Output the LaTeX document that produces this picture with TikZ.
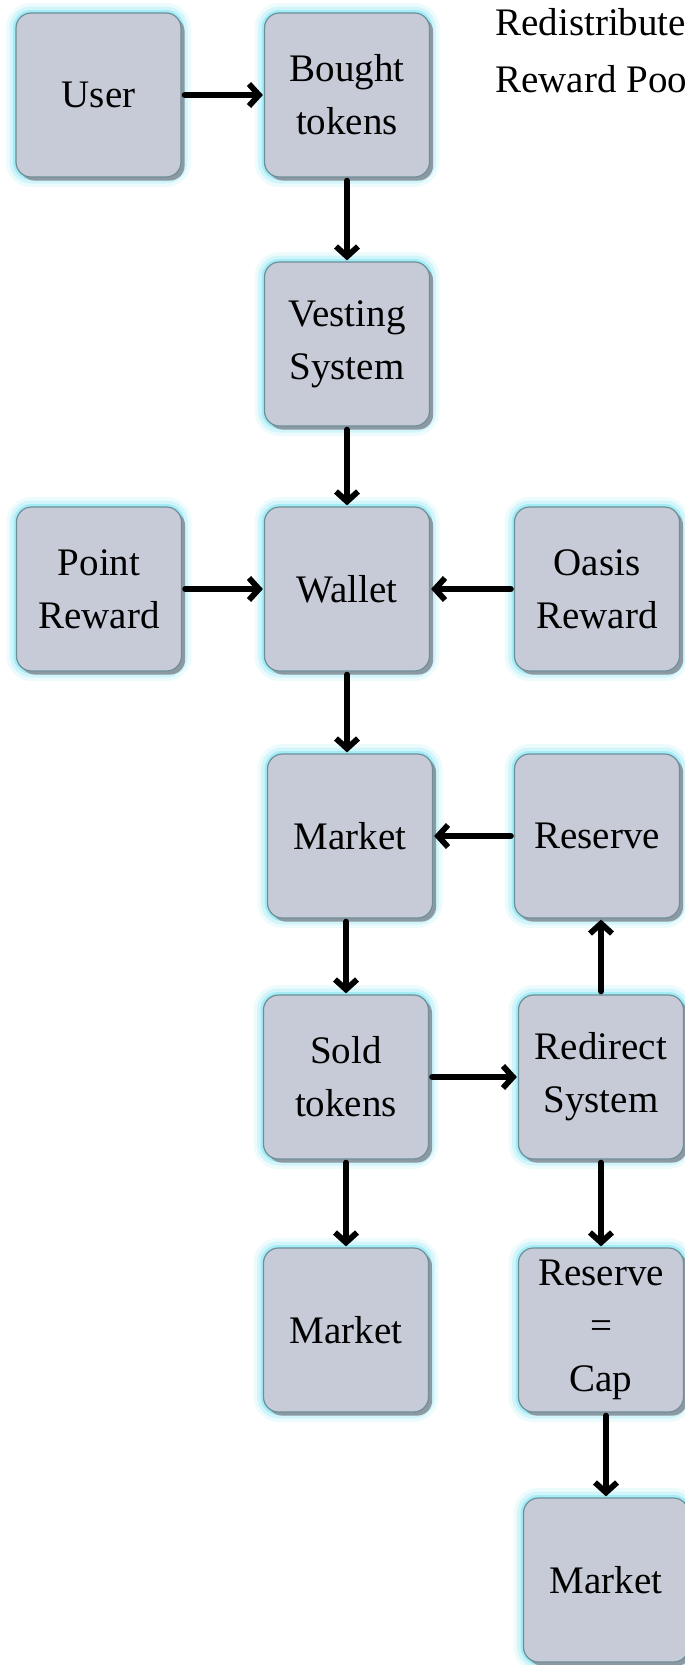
\documentclass[tikz,border=0pt]{standalone}
\usepackage{fontspec}
\setmainfont{Liberation Serif}
\usetikzlibrary{arrows.meta,shadows}

\definecolor{boxfill}{HTML}{C6CBD7}
\definecolor{boxline}{HTML}{6E8E98}
\definecolor{boxshade}{HTML}{8D99A2}
\definecolor{glow}{HTML}{6FE3F3}

\tikzset{
  block/.style={
    rounded corners=7.5pt, minimum width=82.5pt, minimum height=82pt,
    inner sep=0pt, align=center,
    font=\fontsize{19.5}{26.5}\selectfont,
    fill=boxfill, draw=boxline, line width=0.6pt,
    preaction={draw=glow, line width=10pt, opacity=0.12},
    preaction={draw=glow, line width=6.5pt, opacity=0.22},
    preaction={draw=glow, line width=3pt, opacity=0.45},
    drop shadow={shadow xshift=1.8pt, shadow yshift=-1.8pt, fill=boxshade, opacity=1}},
  flow/.style={line width=2.9pt, line cap=round, line join=round,
    -{Straight Barb[length=5pt,width=11pt]},
    shorten <=1.5pt, shorten >=0.5pt},
  note/.style={font=\fontsize{19.5}{26.5}\selectfont, anchor=base west, inner sep=0pt},
}

\begin{document}
\begin{tikzpicture}[x=0.5pt, y=-0.5pt]
  \fill[white] (0,0) rectangle (685,1665);
  \useasboundingbox (0,0) rectangle (685,1665);

  % boxes
  \node[block] (user)     at (98.5,95)   {User};
  \node[block] (bought)   at (347,95)    {Bought\\tokens};
  \node[block] (vesting)  at (347,344)   {Vesting\\System};
  \node[block] (point)    at (99,589)    {Point\\Reward};
  \node[block] (wallet)   at (347,589)   {Wallet};
  \node[block] (oasis)    at (597,589)   {Oasis\\Reward};
  \node[block] (market1)  at (350,836)   {Market};
  \node[block] (reserve)  at (597,836)   {Reserve};
  \node[block] (sold)     at (346,1077)  {Sold\\tokens};
  \node[block] (redirect) at (601,1077)  {Redirect\\System};
  \node[block] (market2)  at (346,1330)  {Market};
  \node[block] (cap)      at (601,1330)  {Reserve\\=\\Cap};
  \node[block] (market3)  at (606,1580)  {Market};

  % side note
  \node[note] (note1) at (495,35) {Redistribute};
  \node[note] (note2) at (495,92) {Reward Poo};

  % connectors
  \draw[flow] (user) -- (bought);
  \draw[flow] (bought) -- (vesting);
  \draw[flow] (vesting) -- (wallet);
  \draw[flow] (point) -- (wallet);
  \draw[flow] (oasis) -- (wallet);
  \draw[flow] (wallet.south) -- (wallet.south |- market1.north);
  \draw[flow] (reserve) -- (market1);
  \draw[flow] (sold.north |- market1.south) -- (sold.north);
  \draw[flow] (sold) -- (redirect);
  \draw[flow] (redirect.north) -- (redirect.north |- reserve.south);
  \draw[flow] (sold) -- (market2);
  \draw[flow] (redirect.south) -- (redirect.south |- cap.north);
  \draw[flow] (market3.north |- cap.south) -- (market3.north);
\end{tikzpicture}
\end{document}
